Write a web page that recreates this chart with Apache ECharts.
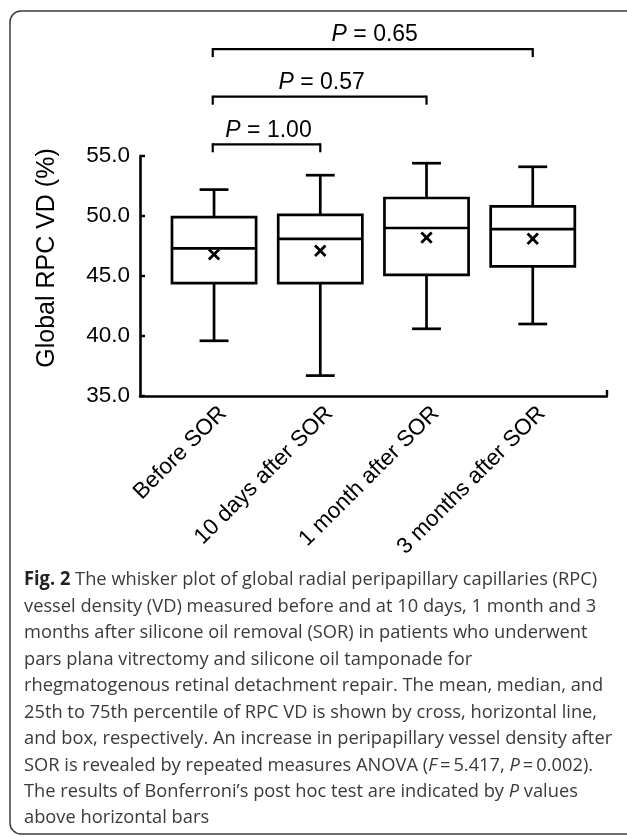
<!DOCTYPE html>
<html>
<head>
<meta charset="utf-8">
<script src="https://cdn.jsdelivr.net/npm/echarts@6/dist/echarts.min.js"></script>
<style>
html, body { margin: 0; padding: 0; background: #fff; }
#chart { width: 627px; height: 837px; }
</style>
</head>
<body>
<div id="chart"></div>
<script>
// data
var categories = ['Before SOR', '10 days after SOR', '1 month after SOR', '3 months after SOR'];
var whiskerLow = [39.6, 36.7, 40.6, 41.0];
var q1 = [44.4, 44.4, 45.1, 45.8];
var medians = [47.3, 48.1, 49.0, 48.9];
var q3 = [49.9, 50.1, 51.5, 50.8];
var whiskerHigh = [52.2, 53.4, 54.4, 54.1];
var means = [46.8, 47.1, 48.2, 48.1];
var yTicks = [35, 40, 45, 50, 55];

// post hoc comparisons (bars above the plot)
var compFrom = [0, 0, 0];
var compTo = [1, 2, 3];
var compP = ['1.00', '0.57', '0.65'];

var captionLines = [
    [['b', 'Fig. 2'], ['n', ' The whisker plot of global radial peripapillary capillaries (RPC)']],
    [['n', 'vessel density (VD) measured before and at 10 days, 1 month and 3']],
    [['n', 'months after silicone oil removal (SOR) in patients who underwent']],
    [['n', 'pars plana vitrectomy and silicone oil tamponade for']],
    [['n', 'rhegmatogenous retinal detachment repair. The mean, median, and']],
    [['n', '25th to 75th percentile of RPC VD is shown by cross, horizontal line,']],
    [['n', 'and box, respectively. An increase in peripapillary vessel density after']],
    [['n', 'SOR is revealed by repeated measures ANOVA ('], ['i', 'F'], ['n', '\u2009=\u20095.417, '], ['i', 'P'], ['n', '\u2009=\u20090.002).']],
    [['n', 'The results of Bonferroni\u2019s post hoc test are indicated by '], ['i', 'P'], ['n', ' values']],
    [['n', 'above horizontal bars']]
];

var yMin = yTicks[0], yMax = yTicks[yTicks.length - 1];
var xMin = -0.697, xMax = categories.length - 1 + 0.697;
var chartFont = '"Liberation Sans", Arial, sans-serif';
var capFont = '"Open Sans", "Noto Sans", sans-serif';

var boxData = categories.map(function (c, i) {
    return [i, whiskerLow[i], q1[i], medians[i], q3[i], whiskerHigh[i], means[i]];
});
var compData = compFrom.map(function (f, k) { return [f, compTo[k]]; });

function seg(x1, y1, x2, y2, w) {
    return { type: 'line', shape: { x1: x1, y1: y1, x2: x2, y2: y2 },
        style: { stroke: '#000', lineWidth: w || 2.7 } };
}

function renderBox(params, api) {
    var i = api.value(0);
    var band = api.size([1, 0])[0];
    var half = band * 0.396, capHalf = band * 0.136, cr = 5.2;
    var cx = api.coord([i, yMin])[0];
    var py = function (d) { return api.coord([i, api.value(d)])[1]; };
    var lo = py(1), b1 = py(2), md = py(3), b3 = py(4), hi = py(5), mn = py(6);
    return {
        type: 'group',
        children: [
            seg(cx, b3, cx, hi), seg(cx - capHalf, hi, cx + capHalf, hi),
            seg(cx, b1, cx, lo), seg(cx - capHalf, lo, cx + capHalf, lo),
            { type: 'rect', shape: { x: cx - half, y: b3, width: half * 2, height: b1 - b3 },
              style: { stroke: '#000', lineWidth: 2.7, fill: '#fff' } },
            seg(cx - half, md, cx + half, md),
            seg(cx - cr, mn - cr, cx + cr, mn + cr, 2.8),
            seg(cx - cr, mn + cr, cx + cr, mn - cr, 2.8)
        ]
    };
}

function renderBracket(params, api) {
    var k = params.dataIndex;
    var x1 = api.coord([api.value(0), yMax])[0] - 1.3;
    var x2 = api.coord([api.value(1), yMax])[0];
    var top = api.coord([0, yMax])[1];
    var yb = top - 11.7 - k * 47.6;
    return {
        type: 'group',
        children: [
            seg(x1, yb, x2, yb, 2.2),
            seg(x1, yb - 1.1, x1, yb + 8, 2.2),
            seg(x2, yb - 1.1, x2, yb + 8, 2.2),
            { type: 'text', style: {
                text: '{i|P} = ' + compP[k], x: (x1 + x2) / 2 + 2, y: yb - 14,
                align: 'center', verticalAlign: 'middle', fill: '#000',
                font: '23px ' + chartFont,
                rich: { i: { fontStyle: 'italic', fontSize: 23, fontFamily: chartFont, fill: '#000' } }
            } }
        ]
    };
}

var captionGraphics = captionLines.map(function (parts, n) {
    var txt = parts.map(function (p) { return '{' + p[0] + '|' + p[1] + '}'; }).join('');
    return {
        type: 'text', x: 24, y: 580 + n * 26.45, scaleX: 0.962,
        style: {
            text: txt, verticalAlign: 'middle', align: 'left',
            rich: {
                n: { fontFamily: capFont, fontSize: 19, fill: '#3a3a3a' },
                b: { fontFamily: capFont, fontSize: 19, fontWeight: 'bold', fill: '#222' },
                i: { fontFamily: capFont, fontSize: 19, fontStyle: 'italic', fill: '#3a3a3a' }
            }
        }
    };
});

var myChart = echarts.init(document.getElementById('chart'));
var option = {
    animation: false,
    backgroundColor: '#fff',
    grid: { left: 140, right: 20.2, top: 156, bottom: 441 },
    xAxis: {
        type: 'value', min: xMin, max: xMax,
        axisLine: { show: true, onZero: false, lineStyle: { color: '#000', width: 2.6 } },
        axisTick: { show: true, inside: true, length: 6, customValues: [xMax], lineStyle: { color: '#000', width: 2.4 } },
        splitLine: { show: false },
        axisLabel: {
            customValues: categories.map(function (c, i) { return i + 0.085; }),
            rotate: 45, margin: 14, color: '#000', fontSize: 22.5, fontFamily: chartFont,
            formatter: function (v) { return categories[Math.round(v)]; }
        }
    },
    yAxis: {
        type: 'value', min: yMin, max: yMax, interval: 5,
        name: 'Global RPC VD (%)', nameLocation: 'middle', nameGap: 80, nameRotate: 90,
        nameTextStyle: { color: '#000', fontSize: 25, fontFamily: chartFont, padding: [0, 0, 0, 36] },
        axisLine: { show: true, onZero: false, lineStyle: { color: '#000', width: 2.6 } },
        axisTick: { show: true, inside: true, length: 5, lineStyle: { color: '#000', width: 2.4 } },
        splitLine: { show: false },
        axisLabel: {
            margin: 10, color: '#000', fontSize: 22.5, fontFamily: chartFont,
            formatter: function (v) { return v.toFixed(1); }
        }
    },
    graphic: [
        { type: 'rect', shape: { x: 10, y: 11, width: 660, height: 823, r: 11 },
          style: { fill: null, stroke: '#3c3c3c', lineWidth: 1.5 }, silent: true }
    ].concat(captionGraphics),
    series: [
        { type: 'custom', renderItem: renderBox, data: boxData,
          encode: { x: 0, y: [1, 2, 3, 4, 5, 6] }, z: 3 },
        { type: 'custom', renderItem: renderBracket, data: compData,
          encode: { x: [0, 1] }, clip: false, z: 3 }
    ]
};
myChart.setOption(option);
</script>
</body>
</html>
